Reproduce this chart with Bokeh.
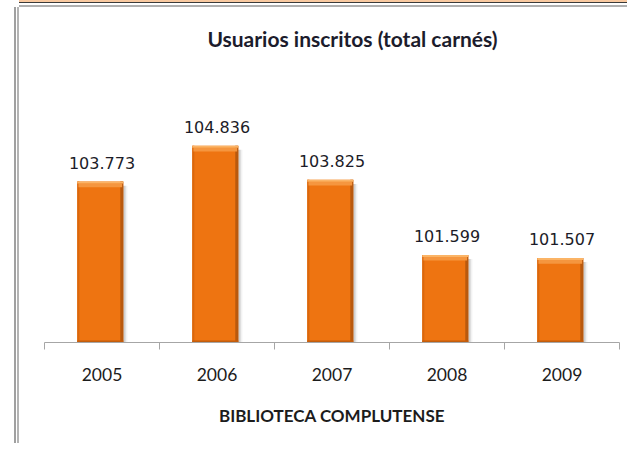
import numpy as np
from bokeh.plotting import figure
from bokeh.models import Range1d, FixedTicker
from bokeh.core.properties import value
from bokeh.embed import file_html
from bokeh.resources import INLINE

# ---- data ----
years = ["2005", "2006", "2007", "2008", "2009"]
usuarios = [103773, 104836, 103825, 101599, 101507]
y_min = 99000
y_max = 108937          # frame extends to the top of the chart area (axis hidden)
title_text = "Usuarios inscritos (total carnés)"
x_title = "BIBLIOTECA COMPLUTENSE"

n = len(years)
xc = np.arange(n) + 0.5
vals = np.array(usuarios, dtype=float)
labels = [f"{v:,}".replace(",", ".") for v in usuarios]

p = figure(width=608, height=436,
           x_range=Range1d(0, n), y_range=Range1d(y_min, y_max),
           output_backend="svg", toolbar_location=None,
           y_axis_location=None, x_axis_location="below",
           min_border_left=25, min_border_right=8,
           min_border_top=0, min_border_bottom=101)
p.grid.visible = False
p.outline_line_color = None
p.background_fill_color = "white"
p.border_fill_color = "white"
p.styles = {"margin-left": "19px", "margin-top": "7px",
            "box-shadow": ("0 -2px 0 0 #B0B0B0, 0 -4px 0 0 #FFFFFF, "
                           "0 -5px 0 0 #3A3A3A, 0 -7px 0 0 #F9C9A0, "
                           "-2px 0 0 0 #B4B4B4, -3px 0 0 0 #FFFFFF, "
                           "-5px 0 0 0 #A0A0A0")}

bw = 0.4
xb = xc - 0.015
# shadow
for off, a in [(0.012, 0.10), (0.024, 0.08), (0.036, 0.05)]:
    p.vbar(x=xb + off, width=bw, top=vals - 120, bottom=y_min,
           fill_color="#000000", fill_alpha=a, line_color=None)
# main bar
p.vbar(x=xb, width=bw, top=vals, bottom=y_min, fill_color="#EE7411", line_color=None)
# left edge
p.vbar(x=xb - bw / 2 + 0.009, width=0.018, top=vals, bottom=y_min,
       fill_color="#DA670C", line_color=None)
# right edge
p.vbar(x=xb + bw / 2 - 0.013, width=0.026, top=vals, bottom=y_min,
       fill_color="#B9590E", line_color=None)
# top bevel
p.vbar(x=xb, width=bw - 0.02, top=vals - 60, bottom=vals - 170,
       fill_color="#F5963F", line_color=None)
p.vbar(x=xb, width=bw, top=vals, bottom=vals - 60,
       fill_color="#FBB466", line_color=None)
# bottom
p.vbar(x=xb, width=bw, top=y_min + 60, bottom=y_min,
       fill_color="#C35D0C", line_color=None)

# data labels
p.text(x=xc, y=vals, text=labels, text_font=value("DejaVu Sans"),
       text_font_size="16px", text_align="center", text_baseline="alphabetic",
       y_offset=-19, text_color="#1c1c28")

# title (as text inside the hidden-axis area)
p.text(x=[2.678], y=[108017], text=[title_text], text_font=value("Lato"),
       text_font_style="bold", text_font_size="21px", text_align="center",
       text_baseline="alphabetic", text_color="#1c1c2c")

# axis
ax = p.xaxis[0]
ax.ticker = FixedTicker(ticks=list(xc), minor_ticks=list(range(n + 1)))
ax.major_label_overrides = {float(x): y for x, y in zip(xc, years)}
ax.axis_line_color = "#A6A6A6"
ax.major_tick_line_color = None
ax.major_tick_out = 0
ax.major_tick_in = 0
ax.minor_tick_line_color = "#A6A6A6"
ax.minor_tick_out = 7
ax.minor_tick_in = 0
ax.major_label_text_font = "Lato"
ax.major_label_text_font_size = "17.5px"
ax.major_label_text_color = "#1c1c1c"
ax.major_label_standoff = 18
ax.axis_label = x_title
ax.axis_label_text_font = "Lato"
ax.axis_label_text_font_style = "bold"
ax.axis_label_text_font_size = "17px"
ax.axis_label_text_color = "#1c1c1c"
ax.axis_label_standoff = 21

open("out.html", "w").write(file_html(p, INLINE))
